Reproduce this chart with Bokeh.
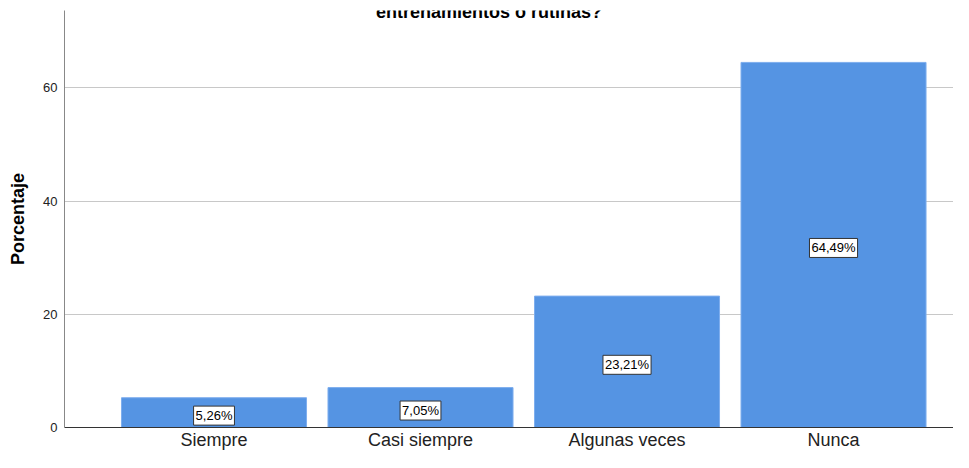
from bokeh.plotting import figure
from bokeh.models import Range1d, Label, FixedTicker, ColumnDataSource
from bokeh.embed import file_html
from bokeh.resources import INLINE

categories = ["Siempre", "Casi siempre", "Algunas veces", "Nunca"]
percentages = [5.26, 7.05, 23.21, 64.49]
value_labels = ["5,26%", "7,05%", "23,21%", "64,49%"]
y_ticks = [0, 20, 40, 60]
title_text = "entrenamientos o rutinas?"

xs = list(range(1, len(categories) + 1))
src = ColumnDataSource(dict(x=xs, top=percentages, mid=[v / 2 for v in percentages], lab=value_labels))

FONT = "Liberation Sans"
Y_MAX = 73.66

p = figure(width=953, height=452, output_backend="svg", toolbar_location=None,
           x_range=Range1d(0.276, 4.581), y_range=Range1d(0, Y_MAX),
           min_border_left=64, min_border_right=0, min_border_top=10, min_border_bottom=22)
p.outline_line_color = None
p.background_fill_color = "white"
p.border_fill_color = "white"

p.vbar(x="x", top="top", width=0.896, bottom=0, source=src,
       fill_color="#5594E3", line_color="#7EAEEE", line_width=1)

for xv, mv, lab in zip(xs, src.data["mid"], value_labels):
    p.add_layout(Label(x=xv, y=mv, text=lab, text_align="center", text_baseline="middle",
                       y_offset=-3, text_font=FONT, text_font_size="13px", text_color="black",
                       background_fill_color="white", border_line_color="#333333",
                       border_line_width=1, padding=2))

p.add_layout(Label(x=2.332, y=Y_MAX, y_offset=9, text=title_text, text_align="center",
                   text_baseline="top", text_font=FONT, text_font_size="18px",
                   text_font_style="bold", text_color="black"))

# x axis
p.xaxis.ticker = FixedTicker(ticks=xs)
p.xaxis.major_label_overrides = {x: c for x, c in zip(xs, categories)}
p.xaxis.major_tick_line_color = None
p.xaxis.major_tick_out = 0
p.xaxis.major_tick_in = 0
p.xaxis.minor_tick_line_color = None
p.xaxis.axis_line_color = "#333333"
p.xaxis.major_label_text_font = FONT
p.xaxis.major_label_text_font_size = "18px"
p.xaxis.major_label_text_color = "#222222"
p.xaxis.major_label_standoff = 2
p.xgrid.grid_line_color = None

# y axis
p.yaxis.ticker = FixedTicker(ticks=y_ticks)
p.yaxis.major_tick_line_color = None
p.yaxis.major_tick_out = 0
p.yaxis.major_tick_in = 0
p.yaxis.minor_tick_line_color = None
p.yaxis.axis_line_color = "#888888"
p.yaxis.major_label_text_font = FONT
p.yaxis.major_label_text_font_size = "13px"
p.yaxis.major_label_text_color = "#222222"
p.yaxis.major_label_standoff = 7
p.yaxis.axis_label = "Porcentaje"
p.yaxis.axis_label_text_font = FONT
p.yaxis.axis_label_text_font_size = "18px"
p.yaxis.axis_label_text_font_style = "bold"
p.yaxis.axis_label_text_color = "black"
p.yaxis.axis_label_standoff = 12
p.ygrid.grid_line_color = "#C8C8C8"
p.ygrid.ticker = FixedTicker(ticks=y_ticks)

open("out.html", "w").write(file_html(p, INLINE))
